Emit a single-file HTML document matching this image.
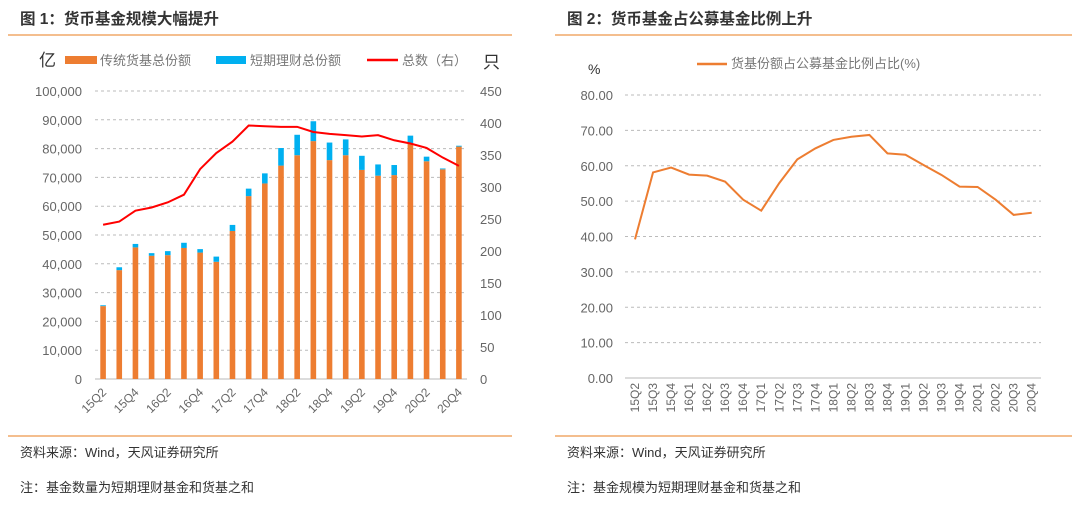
<!DOCTYPE html>
<html><head><meta charset="utf-8"><style>
body{margin:0;width:1080px;height:507px;background:#fff;overflow:hidden;font-family:"Liberation Sans","Noto Sans CJK SC",sans-serif;}
svg text{font-family:"Liberation Sans","Noto Sans CJK SC",sans-serif;}
</style></head><body>
<svg width="1080" height="507">
<text x="20" y="24" font-size="15.5" font-weight="bold" fill="#333">图 1：货币基金规模大幅提升</text>
<text x="567" y="24" font-size="15.5" font-weight="bold" fill="#333">图 2：货币基金占公募基金比例上升</text>
<line x1="8" y1="35" x2="512" y2="35" stroke="#f0a868" stroke-width="1.5"/>
<line x1="555" y1="35" x2="1072" y2="35" stroke="#f0a868" stroke-width="1.5"/>
<line x1="8" y1="436" x2="512" y2="436" stroke="#f0a868" stroke-width="1.5"/>
<line x1="555" y1="436" x2="1072" y2="436" stroke="#f0a868" stroke-width="1.5"/>
<text x="20" y="457" font-size="13" fill="#333">资料来源：Wind，天风证券研究所</text>
<text x="20" y="492" font-size="13" fill="#333">注：基金数量为短期理财基金和货基之和</text>
<text x="567" y="457" font-size="13" fill="#333">资料来源：Wind，天风证券研究所</text>
<text x="567" y="492" font-size="13" fill="#333">注：基金规模为短期理财基金和货基之和</text>

<text x="39" y="66" font-size="17" fill="#333">亿</text>
<text x="483" y="68" font-size="17" fill="#333">只</text>
<rect x="65" y="56" width="32" height="8" fill="#ed7d31"/>
<text x="100" y="65" font-size="13" fill="#777">传统货基总份额</text>
<rect x="216" y="56" width="30" height="8" fill="#00b0f0"/>
<text x="250" y="65" font-size="13" fill="#777">短期理财总份额</text>
<line x1="367" y1="60" x2="398" y2="60" stroke="#ff0000" stroke-width="2.5"/>
<text x="402" y="65" font-size="13" fill="#777">总数（右）</text>
<g id="c1"></g>

<text x="588" y="74" font-size="14" fill="#333">%</text>
<line x1="697" y1="64" x2="727" y2="64" stroke="#ed7d31" stroke-width="2.5"/>
<text x="731" y="68" font-size="13" fill="#777">货基份额占公募基金比例占比(%)</text>
<g id="c2"></g>
</svg>
<script>
const cats1=["15Q2","15Q3","15Q4","16Q1","16Q2","16Q3","16Q4","17Q1","17Q2","17Q3","17Q4","18Q1","18Q2","18Q3","18Q4","19Q1","19Q2","19Q3","19Q4","20Q1","20Q2","20Q3","20Q4"];
const traditional=[25300,37800,45700,42800,43000,45500,43900,40700,51400,63500,67900,74100,77700,82600,76000,77700,72600,70600,70800,81800,75600,72800,80700];
const shortTerm=[300,1000,1200,900,1400,1800,1200,1800,2100,2600,3500,6100,7100,6900,6100,5500,4900,3900,3500,2700,1600,300,300];
const fundCount=[241,246,263,268,276,288,328,353,371,396,395,394,394,386,383,381,379,381,373,368,361,346,333];
const leftTicks=[0,10000,20000,30000,40000,50000,60000,70000,80000,90000,100000];
const rightTicks=[0,50,100,150,200,250,300,350,400,450];

const cats2=cats1;
const ratio=[39.2,58.1,59.5,57.5,57.2,55.5,50.4,47.3,55.1,61.8,64.9,67.3,68.2,68.7,63.5,63.1,60.2,57.4,54.1,54.0,50.4,46.1,46.7];
const ratioTicks=[0,10,20,30,40,50,60,70,80];

const NS="http://www.w3.org/2000/svg";
function mk(p,tag,attrs,txt){const e=document.createElementNS(NS,tag);for(const k in attrs)e.setAttribute(k,attrs[k]);if(txt!==undefined)e.textContent=txt;p.appendChild(e);return e;}
// chart 1
const g1=document.getElementById('c1');
const L0=95,L1=467,T=91,B=379;
const yL=v=>B-(v/100000)*(B-T);
const yR=v=>B-(v/450)*(B-T);
const bw=(L1-L0)/cats1.length;
const xC=i=>L0+bw*(i+0.5);
leftTicks.forEach(t=>{
  if(t>0){const l=mk(g1,'line',{x1:L0,x2:L1,y1:yL(t),y2:yL(t),stroke:'#bbb','stroke-dasharray':'3,3'});
  
  }
  const tx=mk(g1,'text',{x:82,y:yL(t)+5,'font-size':13,fill:'#666','text-anchor':'end'},t.toLocaleString('en-US'));
  
  
});
rightTicks.forEach(t=>{
  const tx=mk(g1,'text',{x:480,y:yR(t)+5,'font-size':13,fill:'#666'},String(t));
  
  
});
const ax=mk(g1,'line',{x1:L0,x2:L1,y1:B,y2:B,stroke:'#d0d0d0','stroke-width':1.5});


cats1.forEach((c,i)=>{
  const x=xC(i);
  const r=mk(g1,'rect',{x:x-2.8,y:yL(traditional[i]),width:5.6,height:B-yL(traditional[i]),fill:'#ed7d31'});
  
  
  const tot=traditional[i]+shortTerm[i];
  const r2=mk(g1,'rect',{x:x-2.8,y:yL(tot),width:5.6,height:yL(traditional[i])-yL(tot),fill:'#00b0f0'});
  
  
  if(i%2===0){
    const tx=mk(g1,'text',{x:x+4,y:B+14,'font-size':12,fill:'#666','text-anchor':'end',transform:`rotate(-45 ${x+4} ${B+14})`},c);
    
    
  }
});
const ln=mk(g1,'polyline',{points:fundCount.map((v,i)=>xC(i)+','+yR(v)).join(' '),fill:'none',stroke:'#ff0000','stroke-width':2});


// chart 2
const g2=document.getElementById('c2');
const X0=625,X1=1041,T2=95,B2=378;
const y2=v=>B2-(v/80)*(B2-T2);
const x2=i=>635+i*(1031.7-635)/(cats2.length-1);
ratioTicks.forEach(t=>{
  if(t>0){const l=mk(g2,'line',{x1:X0,x2:X1,y1:y2(t),y2:y2(t),stroke:'#bbb','stroke-dasharray':'3,3'});
  
  }
  const tx=mk(g2,'text',{x:613,y:y2(t)+5,'font-size':13,fill:'#666','text-anchor':'end'},t.toFixed(2));
  
  
});
const ax2=mk(g2,'line',{x1:X0,x2:X1,y1:B2,y2:B2,stroke:'#d0d0d0','stroke-width':1.5});


cats2.forEach((c,i)=>{
  const x=x2(i);
  const tx=mk(g2,'text',{x:x+4,y:B2+5,'font-size':12,fill:'#666','text-anchor':'end',transform:`rotate(-90 ${x+4} ${B2+5})`},c);
  
  
});
const ln2=mk(g2,'polyline',{points:ratio.map((v,i)=>x2(i)+','+y2(v)).join(' '),fill:'none',stroke:'#ed7d31','stroke-width':2});


</script>
</body></html>
